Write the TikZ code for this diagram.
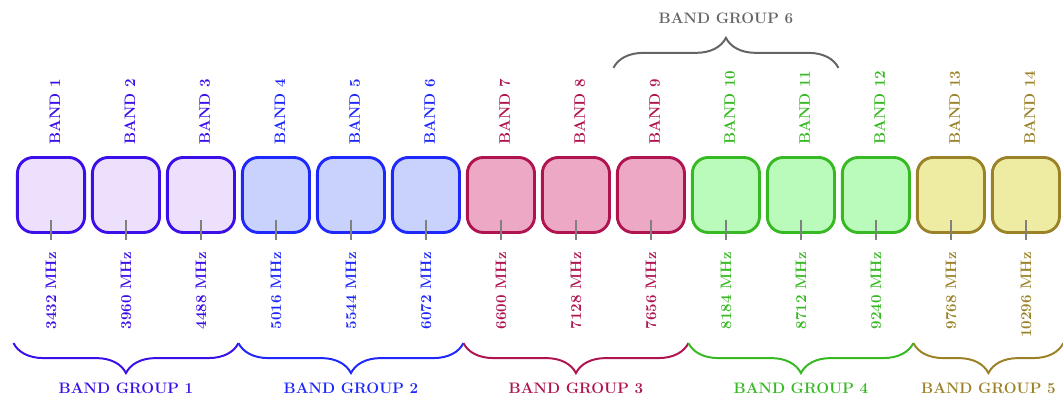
\documentclass[tikz,border=0pt]{standalone}
\definecolor{bandviolet}{RGB}{60, 15, 232}
\definecolor{bandblue}{RGB}{30, 40, 250}
\definecolor{bandred}{RGB}{175, 20, 80}
\definecolor{bandgreen}{RGB}{55, 185, 35}
\definecolor{bandolive}{RGB}{155, 130, 40}
\definecolor{bandgray}{RGB}{100, 100, 100}
\definecolor{violetfill}{RGB}{237, 224, 252}
\definecolor{bluefill}{RGB}{200, 210, 252}
\definecolor{redfill}{RGB}{236, 168, 196}
\definecolor{greenfill}{RGB}{186, 250, 186}
\definecolor{olivefill}{RGB}{238, 236, 162}
\usepackage{tikz}
\usetikzlibrary{calc, decorations.pathreplacing}

\begin{document}
\begin{tikzpicture}[
  bandbox/.style={draw, rounded corners=12pt, line width=2.2pt, minimum width=1.79cm, minimum height=2.0cm},
  bandlabel/.style={rotate=90, inner sep=0pt, font=\bfseries\fontsize{11.5}{13}\selectfont},
  centretick/.style={draw=gray, line width=1.4pt},
  groupbrace/.style={decorate, decoration={brace, amplitude=0.8cm, mirror}, line width=1.5pt},
  grouplabel/.style={inner sep=0pt, font=\bfseries\fontsize{11.5}{13}\selectfont}
]
  \useasboundingbox (-1.36, -5.6) rectangle (26.99, 5.2);

  % one rounded box per band, centre frequency below, name above
  \foreach \n/\f/\c/\b in {1/3432/bandviolet/violetfill, 2/3960/bandviolet/violetfill, 3/4488/bandviolet/violetfill,
                           4/5016/bandblue/bluefill, 5/5544/bandblue/bluefill, 6/6072/bandblue/bluefill,
                           7/6600/bandred/redfill, 8/7128/bandred/redfill, 9/7656/bandred/redfill,
                           10/8184/bandgreen/greenfill, 11/8712/bandgreen/greenfill, 12/9240/bandgreen/greenfill,
                           13/9768/bandolive/olivefill, 14/10296/bandolive/olivefill} {
    \node[bandbox, draw=\c, fill=\b] (band\n) at ({2*(\n-1)}, 0) {};
    \draw[centretick] ([yshift=-0.17cm]band\n.south) -- ([yshift=0.37cm]band\n.south);
    \node[bandlabel, text=\c, anchor=west] (name\n) at ($(band\n.center)+(0.1, 1.33)$) {BAND \n};
    \node[bandlabel, text=\c, anchor=east] (freq\n) at ($(band\n.center)+(0, -1.52)$) {\f\ MHz};
  }

  % band groups below the boxes
  \draw[groupbrace, bandviolet] ($(band1)+(-1, -3.95)$) -- ($(band3)+(1, -3.95)$)
    node[grouplabel, midway, yshift=-1.2cm] (group1) {BAND GROUP 1};
  \draw[groupbrace, bandblue] ($(band4)+(-1, -3.95)$) -- ($(band6)+(1, -3.95)$)
    node[grouplabel, midway, yshift=-1.2cm] (group2) {BAND GROUP 2};
  \draw[groupbrace, bandred] ($(band7)+(-1, -3.95)$) -- ($(band9)+(1, -3.95)$)
    node[grouplabel, midway, yshift=-1.2cm] (group3) {BAND GROUP 3};
  \draw[groupbrace, bandgreen] ($(band10)+(-1, -3.95)$) -- ($(band12)+(1, -3.95)$)
    node[grouplabel, midway, yshift=-1.2cm] (group4) {BAND GROUP 4};
  \draw[groupbrace, bandolive] ($(band13)+(-1, -3.95)$) -- ($(band14)+(1, -3.95)$)
    node[grouplabel, midway, yshift=-1.2cm] (group5) {BAND GROUP 5};

  % group 6 spans bands 9 to 11, on top
  \draw[groupbrace, bandgray, decoration={mirror=false}] ($(band9)+(-1, 3.39)$) -- ($(band11)+(1, 3.39)$)
    node[grouplabel, midway, yshift=1.33cm] (group6) {BAND GROUP 6};
\end{tikzpicture}
\end{document}
